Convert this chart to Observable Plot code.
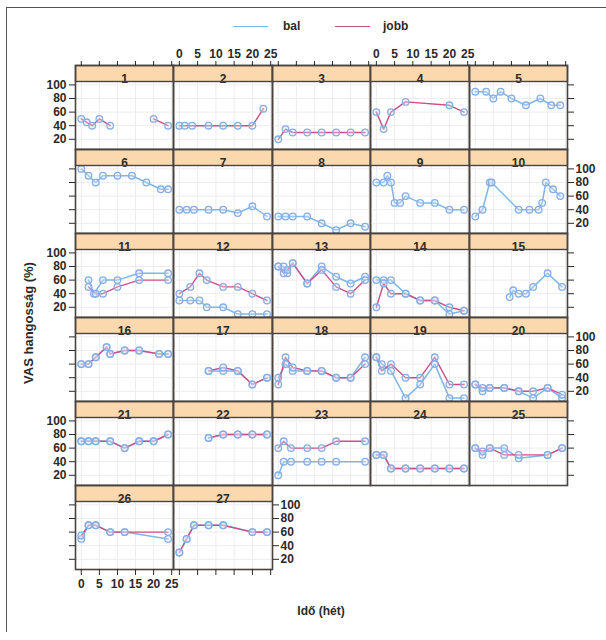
<!DOCTYPE html>
<html><head><meta charset="utf-8">
<script src="https://cdn.jsdelivr.net/npm/d3@7"></script>
<script src="https://cdn.jsdelivr.net/npm/@observablehq/plot@0.6"></script>
<style>
body{margin:0;background:#fff;}
#fig{position:relative;width:606px;height:640px;overflow:hidden;background:#fff;font-family:"Liberation Sans",Arial,sans-serif;color:#2a2a2a;font-weight:bold;}
.abs{position:absolute;}
</style></head><body><div id="fig"></div>
<script>
// ---- tick labels / categories ----
const weekTicks = [0, 5, 10, 15, 20, 25];
const vasTicks = [20, 40, 60, 80, 100];
const panelLabels = ["1","2","3","4","5","6","7","8","9","10","11","12","13","14","15","16","17","18","19","20","21","22","23","24","25","26","27"];
const sideNames = ["bal", "jobb"];

// ---- series values: [week, VAS %] ----
const jobb01 = [[0,50],[1.5,45],[3,40],[5,50],[8,40],[12,null],[20,50],[24,40]];
const jobb02 = [[0,40],[1.5,40],[3.5,40],[8,40],[12,40],[16,40],[20,40],[23,65]];
const jobb03 = [[0,20],[2,35],[4,30],[8,30],[12,30],[16,30],[20,30],[24,30]];
const jobb04 = [[0,60],[2,35],[4,60],[8,75],[20,70],[24,60]];
const bal05 = [[0,90],[3,90],[5,80],[7,90],[10,80],[14,70],[18,80],[21,70],[23.5,70]];
const bal06 = [[0,100],[2,90],[4,80],[6,90],[10,90],[14,90],[18,80],[22,70],[24,70]];
const bal07 = [[0,40],[2,40],[4,40],[8,40],[12,40],[16,35],[20,45],[24,30]];
const bal08 = [[0,30],[2,30],[4,30],[8,30],[12,20],[16,10],[20,20],[24,15]];
const bal09 = [[0,80],[2,80],[3,90],[4,80],[5,50],[6.5,50],[8,60],[12,50],[16,50],[20,40],[24,40]];
const bal10 = [[0,30],[2,40],[4,80],[4.5,80],[12,40],[15,40],[17.5,40],[18.5,50],[19.5,80],[21.5,70],[23.5,60]];
const bal11 = [[2,60],[3.5,40],[6,60],[10,60],[16,70],[24,70]];
const jobb11 = [[2,50],[4,40],[6,40],[10,50],[16,60],[24,60]];
const bal12 = [[0,30],[3,30],[5.5,30],[7.5,20],[12,20],[16,10],[20,10],[24,10]];
const jobb12 = [[0,40],[3,50],[5.5,70],[7.5,60],[12,50],[16,50],[20,40],[24,30]];
const bal13 = [[0,80],[1.5,80],[2.5,70],[4,85],[8,55],[12,80],[16,65],[20,55],[24,65]];
const jobb13 = [[0,80],[1.5,70],[2.5,75],[4,85],[8,55],[12,75],[16,50],[20,40],[24,60]];
const bal14 = [[0,60],[2,60],[4,60],[8,40],[12,30],[16,30],[20,10],[24,15]];
const jobb14 = [[0,20],[2,55],[4,40],[8,40],[12,30],[16,30],[20,20],[24,15]];
const bal15 = [[9.5,35],[10.5,45],[12,40],[14,40],[16,50],[20,70],[24,50]];
const bal16 = [[0,60],[2,60],[4,70],[7,85],[8,75],[12,80],[16,80],[21.5,75],[24,75]];
const jobb16 = [[0,60],[2,60],[4,70],[7,85],[8,75],[12,80],[16,80],[21.5,75],[24,75]];
const bal17 = [[8,50],[12,50],[16,50],[20,30],[24,40]];
const jobb17 = [[8,50],[12,55],[16,50],[20,30],[24,40]];
const bal18 = [[0,40],[2,60],[4,50],[8,50],[12,50],[16,40],[20,40],[24,70]];
const jobb18 = [[0,30],[2,70],[4,55],[8,50],[12,50],[16,40],[20,40],[24,60]];
const bal19 = [[0,70],[1.5,60],[4,50],[8,10],[12,30],[16,60],[20,10],[24,10]];
const jobb19 = [[0,70],[1.5,50],[4,60],[8,40],[12,40],[16,70],[20,30],[24,30]];
const bal20 = [[0,30],[2,20],[4,25],[8,25],[12,20],[16,10],[20,25],[24,10]];
const jobb20 = [[0,30],[2,25],[4,25],[8,25],[12,20],[16,20],[20,25],[24,15]];
const bal21 = [[0,70],[2,70],[4,70],[8,70],[12,60],[16,70],[20,70],[24,80]];
const jobb21 = [[0,70],[2,70],[4,70],[8,70],[12,60],[16,70],[20,70],[24,80]];
const bal22 = [[8,75],[12,80],[16,80],[20,80],[24,80]];
const jobb22 = [[8,75],[12,80],[16,80],[20,80],[24,80]];
const bal23 = [[0,20],[1.5,40],[3.5,40],[8,40],[12,40],[16,40],[24,40]];
const jobb23 = [[0,60],[1.5,70],[3.5,60],[8,60],[12,60],[16,70],[24,70]];
const bal24 = [[0,50],[2,50],[4,30],[8,30],[12,30],[16,30],[20,30],[24,30]];
const jobb24 = [[0,50],[2,50],[4,30],[8,30],[12,30],[16,30],[20,30],[24,30]];
const bal25 = [[0,60],[2,50],[4,60],[8,60],[12,45],[20,50],[24,60]];
const jobb25 = [[0,60],[2,55],[4,60],[8,50],[12,50],[20,50],[24,60]];
const bal26 = [[0,50],[2,70],[4,70],[8,60],[12,60],[24,50]];
const jobb26 = [[0,55],[2,70],[4,70],[8,60],[12,60],[24,60]];
const bal27 = [[0,30],[2,50],[4,70],[8,70],[12,70],[20,60],[24,60]];
const jobb27 = [[0,30],[2,50],[4,70],[8,70],[12,70],[20,60],[24,60]];

const balByPanel = [[],[],[],[],bal05,bal06,bal07,bal08,bal09,bal10,bal11,bal12,bal13,bal14,bal15,bal16,bal17,bal18,bal19,bal20,bal21,bal22,bal23,bal24,bal25,bal26,bal27];
const jobbByPanel = [jobb01,jobb02,jobb03,jobb04,[],[],[],[],[],[],jobb11,jobb12,jobb13,jobb14,[],jobb16,jobb17,jobb18,jobb19,jobb20,jobb21,jobb22,jobb23,jobb24,jobb25,jobb26,jobb27];

// ---- layout ----
const colEdges = [75, 173, 272, 370, 469, 567];
const rowTop0 = 65, rowStep = 84, stripH = 16, panelH = 68;
const M = {l: 40, r: 40, t: 30, b: 30};
const COLORS = {bal: "#7db6e8", jobb: "#cc4f86", dotStroke: "#86aee4", dotFill: "#dce9f8", strip: "#fcd8ae", border: "#4a4440", grid: "#ededed"};

const fig = document.getElementById("fig");

function toRows(arr, side) {
  return arr.map(([w, v]) => ({week: w, vas: v, side}));
}

const nRows = Math.ceil(panelLabels.length / 5);

panelLabels.forEach((lab, i) => {
  const col = i % 5, row = Math.floor(i / 5);
  const w = colEdges[col + 1] - colEdges[col];
  const balRows = toRows(balByPanel[i], sideNames[0]);
  const jobbRows = toRows(jobbByPanel[i], sideNames[1]);
  const allRows = balRows.concat(jobbRows).filter(d => d.vas != null);
  const lastInRow = col === 4 || i === panelLabels.length - 1;
  const leftMode = col === 0 ? (row % 2 === 0 ? "labels" : "ticks") : null;
  const rightMode = lastInRow ? (row % 2 === 1 ? "labels" : "ticks") : null;
  const topMode = row === 0 ? (col % 2 === 1 ? "labels" : "ticks") : null;
  const bottomMode = row === nRows - 1 ? (col % 2 === 0 ? "labels" : "ticks") : null;
  const marks = [
    Plot.gridX(weekTicks, {stroke: COLORS.grid, strokeOpacity: 1}),
    Plot.gridY(vasTicks, {stroke: COLORS.grid, strokeOpacity: 1}),
    Plot.line(balRows, {x: "week", y: "vas", stroke: COLORS.bal, strokeWidth: 1.5}),
    Plot.line(jobbRows, {x: "week", y: "vas", stroke: COLORS.jobb, strokeWidth: 1.4}),
    Plot.dot(allRows, {x: "week", y: "vas", r: 3.3, stroke: COLORS.dotStroke, fill: COLORS.dotFill, fillOpacity: 0.35, strokeWidth: 1.3}),
    Plot.frame({insetBottom: panelH, fill: COLORS.strip}),
    Plot.text([lab], {frameAnchor: "top", dy: stripH / 2 + 0.5, text: d => d, fontSize: 12, fontWeight: "bold", fill: "#2a2a2a"}),
    Plot.frame({insetBottom: panelH, stroke: COLORS.border, strokeWidth: 1.4}),
    Plot.frame({stroke: COLORS.border, strokeWidth: 1.6})
  ];
  const fmt = mode => mode === "labels" ? (d => String(d)) : (() => "");
  if (leftMode) marks.push(Plot.axisY(vasTicks, {anchor: "left", tickSize: 6, tickPadding: 3, tickFormat: fmt(leftMode), label: null}));
  if (rightMode) marks.push(Plot.axisY(vasTicks, {anchor: "right", tickSize: 6, tickPadding: 2, tickFormat: fmt(rightMode), label: null}));
  if (topMode) marks.push(Plot.axisX(weekTicks, {anchor: "top", tickSize: 5, tickPadding: 3, tickFormat: fmt(topMode), label: null}));
  if (bottomMode) marks.push(Plot.axisX(weekTicks, {anchor: "bottom", tickSize: 6, tickPadding: 4, tickFormat: fmt(bottomMode), label: null}));

  const svg = Plot.plot({
    width: w + M.l + M.r,
    height: stripH + panelH + M.t + M.b,
    marginLeft: M.l, marginRight: M.r, marginTop: M.t, marginBottom: M.b,
    x: {domain: [-1.6, 25.5], axis: null},
    y: {domain: [5, 105], insetTop: stripH, axis: null},
    style: "background:transparent;overflow:visible;font:bold 12px 'Liberation Sans',Arial,sans-serif;color:#2a2a2a;",
    marks
  });
  svg.style.position = "absolute";
  svg.style.left = (colEdges[col] - M.l) + "px";
  svg.style.top = (rowTop0 + row * rowStep - M.t) + "px";
  fig.appendChild(svg);
});

// ---- legend ----
function addDiv(css, text) {
  const d = document.createElement("div");
  d.className = "abs";
  d.style.cssText += css;
  if (text != null) d.textContent = text;
  fig.appendChild(d);
  return d;
}
addDiv(`left:233px;top:26px;width:35px;height:0;border-top:1.5px solid ${COLORS.bal};`);
addDiv("left:283px;top:19px;font-size:12px;line-height:14px;", sideNames[0]);
addDiv(`left:335px;top:26px;width:35px;height:0;border-top:1.5px solid ${COLORS.jobb};`);
addDiv("left:383px;top:19px;font-size:12px;line-height:14px;", sideNames[1]);

// ---- axis titles ----
addDiv("left:28px;top:323px;font-size:13px;white-space:nowrap;transform:translate(-50%,-50%) rotate(-90deg);", "VAS hangosság (%)");
addDiv("left:321px;top:611px;font-size:12px;white-space:nowrap;transform:translate(-50%,-50%);", "Idő (hét)");

// ---- outer frame lines ----
addDiv("left:6px;top:7px;width:600px;height:0;border-top:1.5px solid #555;");
addDiv("left:6px;top:7px;width:0;height:625px;border-left:1.5px solid #555;");
</script>
</body></html>
